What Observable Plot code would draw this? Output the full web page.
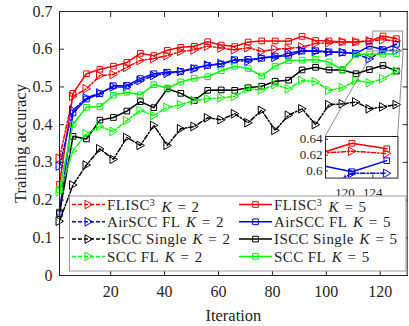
<!DOCTYPE html>
<html><head><meta charset="utf-8">
<script src="https://cdn.jsdelivr.net/npm/d3@7"></script>
<script src="https://cdn.jsdelivr.net/npm/@observablehq/plot@0.6"></script>
<style>
body{margin:0;background:#fff;}
#wrap{position:relative;width:409px;height:326px;}
#wrap svg{position:absolute;left:0;top:0;overflow:visible;}
</style></head><body><div id="wrap"></div>
<script>
// ---- data ----
const iterations = [1,6,11,16,21,26,31,36,41,46,51,56,61,66,71,76,81,86,91,96,101,106,111,116,121,126];
const flisc_K2   = [0.311,0.475,0.495,0.530,0.533,0.552,0.570,0.575,0.583,0.594,0.598,0.608,0.603,0.598,0.604,0.594,0.600,0.602,0.606,0.615,0.617,0.620,0.620,0.622,0.625,0.622];
const flisc_K5   = [0.242,0.483,0.535,0.547,0.555,0.565,0.589,0.583,0.597,0.605,0.608,0.620,0.611,0.607,0.619,0.622,0.622,0.621,0.634,0.623,0.622,0.619,0.619,0.621,0.635,0.628];
const airscc_K2  = [0.290,0.438,0.471,0.484,0.500,0.500,0.517,0.530,0.536,0.541,0.548,0.558,0.562,0.570,0.568,0.578,0.578,0.590,0.596,0.594,0.592,0.592,0.588,0.574,0.597,0.597];
const airscc_K5  = [0.168,0.431,0.468,0.482,0.503,0.504,0.522,0.535,0.539,0.541,0.550,0.557,0.561,0.572,0.573,0.576,0.582,0.582,0.595,0.596,0.593,0.591,0.589,0.608,0.599,0.613];
const iscc_K2    = [0.144,0.240,0.293,0.336,0.308,0.366,0.345,0.398,0.345,0.389,0.395,0.418,0.413,0.429,0.405,0.438,0.385,0.425,0.442,0.400,0.453,0.455,0.460,0.442,0.447,0.453];
const iscc_K5    = [0.164,0.369,0.362,0.412,0.419,0.436,0.461,0.445,0.495,0.483,0.464,0.491,0.492,0.491,0.498,0.502,0.515,0.518,0.545,0.552,0.545,0.545,0.535,0.546,0.557,0.542];
const scc_K2     = [0.222,0.331,0.376,0.395,0.382,0.411,0.438,0.424,0.446,0.453,0.464,0.469,0.471,0.475,0.495,0.492,0.506,0.495,0.517,0.514,0.491,0.498,0.517,0.511,0.522,0.542];
const scc_K5     = [0.228,0.401,0.446,0.448,0.478,0.486,0.479,0.506,0.497,0.513,0.523,0.527,0.543,0.555,0.549,0.529,0.555,0.570,0.571,0.573,0.566,0.545,0.586,0.587,0.587,0.588];

const xTicks = [20,40,60,80,100,120];
const yTicks = [0,0.1,0.2,0.3,0.4,0.5,0.6,0.7];
const insetXTicks = [120,124];
const insetYTicks = [0.60,0.62,0.64];
const insetXDomain = [117.2,127.6];
const insetYDomain = [0.591,0.6435];
const zoomBoxX = [117.4,128.5];
const zoomBoxY = [0.594,0.647];
const insetPlaceX = [99.55,126.43];   // inset frame placement in main-axes data units
const insetPlaceY = [0.2591,0.3694];

const seriesDefs = [
  {method:"FLISC", sup:"3", k:"2", values:flisc_K2, color:"#ff0000", dashed:true},
  {method:"FLISC", sup:"3", k:"5", values:flisc_K5, color:"#ff0000", dashed:false},
  {method:"AirSCC FL", k:"2", values:airscc_K2, color:"#0000ff", dashed:true},
  {method:"AirSCC FL", k:"5", values:airscc_K5, color:"#0000ff", dashed:false},
  {method:"ISCC Single", k:"2", values:iscc_K2, color:"#000000", dashed:true},
  {method:"ISCC Single", k:"5", values:iscc_K5, color:"#000000", dashed:false},
  {method:"SCC FL", k:"2", values:scc_K2, color:"#00ff00", dashed:true},
  {method:"SCC FL", k:"5", values:scc_K5, color:"#00ff00", dashed:false}
];

// ---- style ----
const FONT = "Liberation Serif, Times New Roman, serif";
const AX = "#262626";
const DASH = "4.5,2,1.5,2";
const triRight = {draw(ctx, size){ const r = Math.sqrt(size/Math.PI); ctx.moveTo(-0.8*r,-r); ctx.lineTo(0.95*r,0); ctx.lineTo(-0.8*r,r); ctx.closePath(); }};

function seriesMarks(defs, extra={}) {
  const marks = [];
  for (const s of defs) {
    const data = iterations.map((x,i)=>({x, y:s.values[i]}));
    marks.push(Plot.line(data, {x:"x", y:"y", stroke:s.color, strokeWidth:1.5, strokeDasharray: s.dashed ? DASH : null, ...extra}));
    marks.push(Plot.dot(data, {x:"x", y:"y", stroke:s.color, fill:"none", strokeWidth:1,
      symbol: s.dashed ? triRight : "square", r: s.dashed ? 4.3 : 3.2, ...extra}));
  }
  return marks;
}

const main = Plot.plot({
  width: 409, height: 326,
  marginLeft: 59, marginRight: 2.3, marginTop: 11, marginBottom: 51,
  x: {domain:[1,130]},
  y: {domain:[0,0.7]},
  style: {fontFamily: FONT, fontSize: "16px", color: AX, background: "transparent"},
  marks: [
    ...seriesMarks(seriesDefs),
    Plot.rect([{x1:zoomBoxX[0], x2:zoomBoxX[1], y1:zoomBoxY[0], y2:zoomBoxY[1]}], {x1:"x1", x2:"x2", y1:"y1", y2:"y2", stroke:"#8c8c8c", fill:"none", strokeWidth:1}),
    Plot.link([
      {x1:zoomBoxX[0], y1:zoomBoxY[0], x2:insetPlaceX[0], y2:insetPlaceY[1]},
      {x1:zoomBoxX[1], y1:zoomBoxY[0], x2:insetPlaceX[1], y2:insetPlaceY[1]}
    ], {x1:"x1", y1:"y1", x2:"x2", y2:"y2", stroke:"#6e6e6e", strokeWidth:0.8}),
    Plot.axisX({anchor:"bottom", ticks:xTicks, tickSize:-5, tickPadding:15.5, fontSize:16, label:"Iteration", labelAnchor:"center", labelOffset:45, labelArrow:"none"}),
    Plot.axisX({anchor:"top", ticks:xTicks, tickSize:-5, tickFormat:()=>"", label:null}),
    Plot.axisY({anchor:"left", ticks:yTicks, tickSize:-5, tickPadding:12, fontSize:16, tickFormat:d=> d===0 ? "0" : d3.format(".1f")(d), label:"Training accuracy", labelAnchor:"center", labelOffset:45.5, labelArrow:"none"}),
    Plot.axisY({anchor:"right", ticks:yTicks, tickSize:-5, tickFormat:()=>"", label:null}),
    Plot.frame({stroke:AX, strokeWidth:1})
  ]
});
const wrap = document.getElementById("wrap");
wrap.appendChild(main);
// axis titles slightly larger than tick labels
d3.select(main).selectAll("g[aria-label='x-axis label'] text, g[aria-label='y-axis label'] text").style("font-size", "16.5px");

// ---- inset ----
const sx = main.scale("x"), sy = main.scale("y");
const fL = sx.apply(insetPlaceX[0]), fR = sx.apply(insetPlaceX[1]);
const fT = sy.apply(insetPlaceY[1]), fB = sy.apply(insetPlaceY[0]);
const mL = 34, mR = 2, mT = 2, mB = 20;
const inset = Plot.plot({
  width: (fR-fL)+mL+mR, height: (fB-fT)+mT+mB,
  marginLeft: mL, marginRight: mR, marginTop: mT, marginBottom: mB,
  x: {domain: insetXDomain},
  y: {domain: insetYDomain},
  style: {fontFamily: FONT, fontSize: "13px", color: AX, background: "transparent"},
  marks: [
    Plot.frame({fill:"#ffffff"}),
    ...seriesMarks(seriesDefs.slice(0,4), {clip:true}),
    Plot.axisX({anchor:"bottom", ticks:insetXTicks, tickSize:-3, tickPadding:13, label:null}),
    Plot.axisY({anchor:"left", ticks:insetYTicks, tickSize:-3, tickPadding:6, tickFormat:d=>d3.format("~g")(+d.toFixed(2)), label:null}),
    Plot.frame({stroke:AX, strokeWidth:1})
  ]
});
inset.style.left = (fL - mL) + "px";
inset.style.top = (fT - mT) + "px";
wrap.appendChild(inset);

// ---- legend ----
const legend = d3.select(wrap).append("svg")
  .attr("width", 409).attr("height", 326)
  .style("font-family", FONT).style("font-size", "15px").style("fill", AX);
legend.append("rect").attr("x", 69.5).attr("y", 196).attr("width", 336.5).attr("height", 75)
  .attr("fill", "#fff").attr("stroke", "#9a9a9a").attr("stroke-width", 1);
const rowY = [204.5, 221.8, 239.1, 256.4];
const colX = [72, 239];
seriesDefs.forEach((s, i) => {
  const row = Math.floor(i/2), col = i % 2;
  const y = rowY[row], x0 = colX[col], x1 = x0 + 33, xm = (x0+x1)/2;
  legend.append("line").attr("x1", x0).attr("x2", x1).attr("y1", y).attr("y2", y)
    .attr("stroke", s.color).attr("stroke-width", 1.5).attr("stroke-dasharray", s.dashed ? "4,2" : null);
  const sym = d3.symbol().type(s.dashed ? triRight : d3.symbolSquare).size(s.dashed ? Math.PI*4.3*4.3 : Math.PI*3.2*3.2);
  legend.append("path").attr("d", sym()).attr("transform", `translate(${xm},${y})`)
    .attr("fill", "none").attr("stroke", s.color).attr("stroke-width", 1);
  const t = legend.append("text").attr("x", x1 + 2).attr("y", y).attr("dy", "0.35em").style("white-space", "pre");
  t.append("tspan").style("letter-spacing", "0.4px").text(s.method);
  if (s.sup) {
    t.append("tspan").attr("dy", "-0.42em").style("font-size", "10px").text(s.sup);
    t.append("tspan").attr("dy", "0.42em").attr("dx", 3).style("font-style", "italic").text(" K");
  } else {
    t.append("tspan").attr("dx", 2).style("font-style", "italic").text(" K");
  }
  t.append("tspan").attr("dx", 2).text(" = ");
  t.append("tspan").attr("dx", 2).text(s.k);
});
</script>
</body></html>
